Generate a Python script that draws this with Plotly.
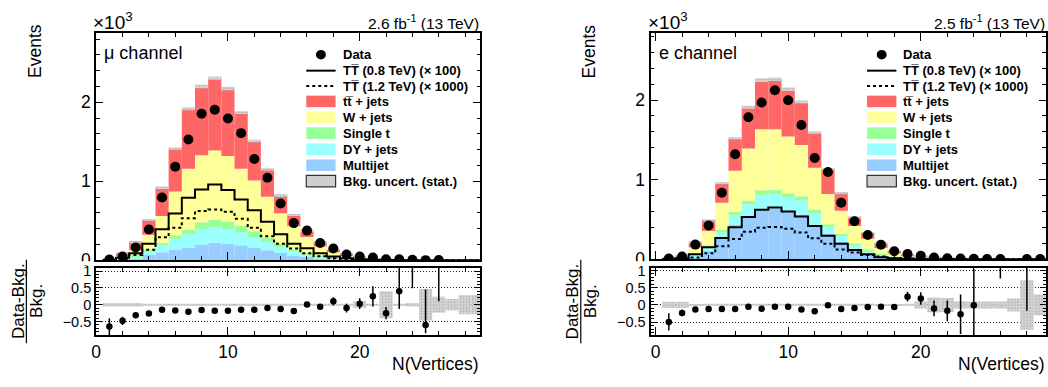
import plotly.graph_objects as go

W, H = 1048, 387
FONT = "Liberation Sans, Arial, Helvetica, sans-serif"


def px(x):
    return x / W


def py(y):
    return 1 - y / H


# ---------------- data ----------------
nvtx = list(range(1, 30))  # bin centres, N(Vertices)

# mu channel (events per bin)
mu_multijet = [3, 10, 28, 65, 100, 135, 160, 200, 220, 210, 190, 160, 125, 90, 60, 40, 25, 15, 9, 5, 3, 1.5, 1, 0.3, 0.3, 0.2, 0.1, 0.1, 0.05]
mu_dy = [2, 8, 22, 50, 85, 130, 170, 190, 195, 185, 165, 135, 105, 75, 50, 33, 20, 12, 7, 4, 2, 1, 0.6, 0.1, 0.1, 0, 0, 0, 0]
mu_singlet = [1, 3, 9, 20, 35, 50, 60, 90, 100, 95, 85, 72, 55, 40, 27, 18, 11, 7, 4, 2, 1, 0.5, 0.4, 0.1, 0.1, 0, 0, 0, 0]
mu_wjets = [9, 34, 69, 187, 341, 555, 770, 850, 876, 830, 720, 643, 520, 391, 294, 202, 118, 66, 38, 21, 13, 8, 4, 1.0, 1.5, 0.6, 0.8, 0.5, 0.35]
mu_ttbar = [10, 37, 104, 193, 361, 545, 760, 870, 914, 855, 710, 500, 345, 230, 144, 87, 58, 37, 22, 13, 8, 4, 3, 0.5, 0.5, 0.2, 0.3, 0.2, 0.1]
mu_unc = [0.05, 0.05, 0.05, 0.015, 0.012, 0.01, 0.01, 0.01, 0.01, 0.01, 0.01, 0.01, 0.012, 0.015, 0.015, 0.03, 0.03, 0.03, 0.03, 0.1, 0.03, 0.4, 0.03, 0.05, 0.47, 0.24, 0.17, 0.28, 0.28]
mu_data = [9, 48, 160, 390, 795, 1185, 1530, 1855, 1905, 1795, 1610, 1283, 1045, 718, 470, 375, 218, 148, 73, 46, 33, 12, 12, 6, 1, 3, None, None, None]
mu_sig08 = [0, 30, 87, 209, 391, 593, 790, 895, 958, 889, 770, 634, 488, 330, 209, 150, 87, 47, 26, 12, 5, 2, 1, 0, 0, 0, 0, 0, 0]
mu_sig12 = [0, 20, 67, 134, 290, 411, 533, 622, 642, 613, 525, 411, 302, 209, 148, 87, 50, 25, 12, 5, 2, 1, 0, 0, 0, 0, 0, 0, 0]
mu_ratio = [-0.65, -0.48, -0.31, -0.26, -0.15, -0.17, -0.21, -0.16, -0.18, -0.18, -0.15, -0.15, -0.10, -0.13, -0.19, 0.01, -0.06, 0.10, -0.10, 0.03, 0.25, -0.25, 0.40, 2.0, -0.6, 1.6, None, None, None]
mu_ratio_up = [0.25, 0.12, 0.04, 0.02, 0.02, 0.02, 0.02, 0.02, 0.02, 0.02, 0.02, 0.02, 0.02, 0.02, 0.03, 0.04, 0.05, 0.12, 0.13, 0.16, 0.3, 0.18, 0.8, 1.0, 1.05, 1.0, 0, 0, 0]
mu_ratio_dn = [0.25, 0.12, 0.04, 0.02, 0.02, 0.02, 0.02, 0.02, 0.02, 0.02, 0.02, 0.02, 0.02, 0.02, 0.03, 0.04, 0.05, 0.12, 0.13, 0.16, 0.3, 0.18, 0.53, 1.51, 0.25, 1.5, 0, 0, 0]

# e channel
e_multijet = [4, 8, 35, 101, 262, 435, 536, 624, 636, 608, 560, 430, 320, 220, 130, 75, 38, 20, 9, 6, 4, 2.5, 1.6, 1, 0.3, 0.2, 0.1, 0.05, 0.05]
e_dy = [2, 5, 25, 52, 73, 120, 150, 185, 180, 170, 180, 150, 85, 70, 50, 30, 17, 7, 4, 3, 2, 1, 0.5, 0.3, 0, 0, 0, 0, 0]
e_singlet = [2, 4, 12, 20, 30, 40, 52, 58, 55, 50, 52, 42, 32, 26, 20, 15, 10, 6, 3, 2, 1, 0.5, 0.5, 0.2, 0, 0, 0, 0, 0]
e_wjets = [5, 14, 73, 182, 345, 515, 652, 765, 761, 712, 643, 528, 382, 293, 216, 135, 75, 39, 22, 15, 10, 7, 5, 2.5, 0.8, 0.6, 0.5, 0.3, 0.3]
e_ttbar = [5, 14, 67, 137, 250, 410, 520, 618, 628, 595, 540, 440, 311, 226, 114, 75, 62, 33, 14, 9, 5, 3, 2, 1, 0.4, 0.2, 0.2, 0.1, 0.1]
e_unc = [0.09, 0.09, 0.03, 0.01, 0.01, 0.01, 0.01, 0.01, 0.01, 0.01, 0.01, 0.01, 0.01, 0.01, 0.01, 0.01, 0.03, 0.03, 0.02, 0.1, 0.22, 0.2, 0.1, 0.1, 0.1, 0.1, 0.19, 0.72, 0.3]
e_data = [8, 33, 183, 424, 835, 1318, 1783, 1968, 2122, 1996, 1686, 1271, 1095, 710, 476, 303, 182, 99, 65, 42, 20, 12, 7, 5, 3, 2, None, 1, 1]
e_sig08 = [0, 10, 60, 150, 265, 400, 530, 620, 650, 600, 536, 416, 295, 195, 114, 61, 25, 12, 5, 2, 0, 0, 0, 0, 0, 0, 0, 0, 0]
e_sig12 = [0, 5, 20, 73, 161, 254, 343, 396, 404, 383, 335, 262, 194, 122, 85, 53, 33, 15, 7, 3, 1, 0, 0, 0, 0, 0, 0, 0, 0]
e_ratio = [-0.49, -0.23, -0.13, -0.12, -0.12, -0.12, -0.05, -0.11, -0.05, -0.05, -0.13, -0.18, -0.01, -0.12, -0.09, -0.06, -0.05, -0.06, 0.24, 0.19, -0.10, -0.17, -0.27, -0.01, 2.5, 2.0, None, 1.5, 2.5]
e_ratio_up = [0.25, 0.1, 0.03, 0.02, 0.02, 0.02, 0.02, 0.02, 0.02, 0.02, 0.02, 0.02, 0.02, 0.02, 0.03, 0.04, 0.05, 0.07, 0.14, 0.18, 0.23, 0.3, 0.57, 1.05, 1.0, 1.5, 0, 1.5, 1.0]
e_ratio_dn = [0.25, 0.1, 0.03, 0.02, 0.02, 0.02, 0.02, 0.02, 0.02, 0.02, 0.02, 0.02, 0.02, 0.02, 0.03, 0.04, 0.05, 0.07, 0.14, 0.18, 0.23, 0.3, 0.57, 0.9, 1.0, 1.23, 0, 1.67, 1.0]

COL = {
    "multijet": "#99ccff",
    "dy": "#99ffff",
    "singlet": "#99ff99",
    "wjets": "#ffff99",
    "ttbar": "#ff6666",
}
UNC_MARKER = dict(color="#c8c8c8", line=dict(width=0),
                  pattern=dict(shape=".", fgcolor="#808080", bgcolor="#e2e2e2", size=3, solidity=0.45))

fig = go.Figure()


def add_channel(xt, yt, xr, yr, comps, unc, data, sig08, sig12, ratio, rup, rdn):
    base = [0.0] * len(nvtx)
    for vals, col in comps:
        fig.add_trace(go.Bar(
            x=nvtx, y=[v / 1000 for v in vals], base=[b / 1000 for b in base], width=1,
            marker=dict(color=col, line=dict(width=0)), xaxis=xt, yaxis=yt,
            showlegend=False, hoverinfo="skip"))
        base = [b + v for b, v in zip(base, vals)]
    total = base
    fig.add_trace(go.Bar(
        x=nvtx, y=[2 * t * u / 1000 for t, u in zip(total, unc)],
        base=[t * (1 - u) / 1000 for t, u in zip(total, unc)], width=1,
        marker=UNC_MARKER, xaxis=xt, yaxis=yt, showlegend=False, hoverinfo="skip"))
    edges = [c - 0.5 for c in nvtx] + [nvtx[-1] + 0.5]
    for sig, dash in ((sig08, "solid"), (sig12, "3px,3px")):
        fig.add_trace(go.Scatter(
            x=edges, y=[s / 1000 for s in sig] + [sig[-1] / 1000], mode="lines",
            line=dict(color="black", width=2, dash=dash, shape="hv"),
            xaxis=xt, yaxis=yt, showlegend=False, hoverinfo="skip"))
    fig.add_trace(go.Scatter(
        x=nvtx, y=[d / 1000 if d is not None else None for d in data], mode="markers",
        marker=dict(color="black", size=10), xaxis=xt, yaxis=yt, showlegend=False))
    fig.add_trace(go.Bar(
        x=nvtx, y=[2 * u for u in unc], base=[-u for u in unc], width=1,
        marker=UNC_MARKER, xaxis=xr, yaxis=yr, showlegend=False, hoverinfo="skip"))
    fig.add_trace(go.Scatter(
        x=nvtx, y=ratio, mode="markers", marker=dict(color="black", size=6.5),
        error_y=dict(type="data", symmetric=False, array=rup, arrayminus=rdn,
                     color="black", thickness=1.5, width=0),
        xaxis=xr, yaxis=yr, showlegend=False))


add_channel("x", "y", "x2", "y2",
            [(mu_multijet, COL["multijet"]), (mu_dy, COL["dy"]), (mu_singlet, COL["singlet"]),
             (mu_wjets, COL["wjets"]), (mu_ttbar, COL["ttbar"])],
            mu_unc, mu_data, mu_sig08, mu_sig12, mu_ratio, mu_ratio_up, mu_ratio_dn)
add_channel("x3", "y3", "x4", "y4",
            [(e_multijet, COL["multijet"]), (e_dy, COL["dy"]), (e_singlet, COL["singlet"]),
             (e_wjets, COL["wjets"]), (e_ttbar, COL["ttbar"])],
            e_unc, e_data, e_sig08, e_sig12, e_ratio, e_ratio_up, e_ratio_dn)


def xax(x0, x1, rng, labels, anchor):
    return dict(domain=[px(x0), px(x1)], range=rng, anchor=anchor,
                showline=True, linewidth=2, linecolor="black", mirror="allticks",
                ticks="inside", ticklen=8, tickwidth=1, tickcolor="black", tick0=0, dtick=10,
                minor=dict(ticks="inside", ticklen=4, tickwidth=1, tickcolor="black", tick0=0, dtick=2),
                showgrid=False, zeroline=False, showticklabels=labels,
                tickfont=dict(family=FONT, size=17.5, color="black"))


def ytop(y0, y1, rng, anchor):
    return dict(domain=[py(y1), py(y0)], range=rng, anchor=anchor,
                showline=True, linewidth=2, linecolor="black", mirror="allticks",
                ticks="inside", ticklen=7, tickwidth=1, tickcolor="black", tick0=0, dtick=1,
                minor=dict(ticks="inside", ticklen=3.5, tickwidth=1, tickcolor="black", tick0=0, dtick=0.2),
                showgrid=False, zeroline=False,
                tickfont=dict(family=FONT, size=17.5, color="black"))


def yrat(y0, y1, rng, anchor):
    return dict(domain=[py(y1), py(y0)], range=rng, anchor=anchor,
                showline=True, linewidth=2, linecolor="black", mirror="allticks",
                ticks="inside", ticklen=6, tickwidth=1, tickcolor="black", tick0=0, dtick=0.5,
                minor=dict(ticks="inside", ticklen=3, tickwidth=1, tickcolor="black", tick0=0, dtick=0.1),
                showgrid=True, gridcolor="#222222", gridwidth=1, griddash="1px,2px", zeroline=False,
                tickfont=dict(family=FONT, size=14.5, color="black"))


layout = dict(
    width=W, height=H, autosize=False, margin=dict(l=0, r=0, t=0, b=0),
    paper_bgcolor="white", plot_bgcolor="white", barmode="overlay", showlegend=False,
    xaxis=xax(91.7, 478, [0, 29.15], False, "y"),
    yaxis=ytop(29, 265.5, [0, 2.88], "x"),
    xaxis2=xax(91.7, 478, [0, 29.15], True, "y2"),
    yaxis2=yrat(273.3, 343.3, [-0.9, 1.1], "x2"),
    xaxis3=xax(649.3, 1046.7, [-0.375, 29.42], False, "y3"),
    yaxis3=ytop(29.3, 264.4, [0, 2.84], "x3"),
    xaxis4=xax(649.3, 1046.7, [-0.375, 29.42], True, "y4"),
    yaxis4=yrat(273.3, 343.3, [-0.87, 1.08], "x4"),
)
fig.update_layout(**layout)

annotations = []
shapes = []


def text(x, y, s, size, xanchor="left", angle=0, bold=False):
    annotations.append(dict(
        x=px(x), y=py(y), xref="paper", yref="paper", text=("<b>%s</b>" % s) if bold else s,
        showarrow=False, xanchor=xanchor, yanchor="middle", textangle=angle,
        font=dict(family=FONT, size=size, color="black")))


legend_entries = ["Data", "TT\u0305 (0.8 TeV) (\u00d7 100)", "TT\u0305 (1.2 TeV) (\u00d7 1000)",
                  "tt\u0305 + jets", "W + jets", "Single t", "DY + jets", "Multijet", "Bkg. uncert. (stat.)"]
legend_y = [51.7, 68.3, 84.3, 100.3, 116.8, 133.3, 150, 166.7, 183.3]
swatch_cols = [None, None, None, COL["ttbar"], COL["wjets"], COL["singlet"], COL["dy"], COL["multijet"], "#cfcfcf"]

panels = [
    dict(dx=0, lumi="2.6 fb<sup>-1</sup> (13 TeV)", chan="\u03bc channel"),
    dict(dx=557.6, lumi="2.5 fb<sup>-1</sup> (13 TeV)", chan="e channel"),
]
for p in panels:
    dx = p["dx"]
    x_left = 91.7 + dx
    x_right = 478 + dx if dx == 0 else 1046.7
    # the lower pad hides the bottom half of the upper pad's "0" label (as in the original)
    shapes.append(dict(type="rect", xref="paper", yref="paper", layer="above",
                       x0=px(55 + dx), x1=px(x_left - 2), y0=py(271), y1=py(266.5),
                       fillcolor="white", line=dict(width=0)))
    text(x_left - 5, 17, "\u00d710<sup>3</sup>", 19)
    text(x_right + 1, 18, p["lumi"], 15.5, xanchor="right")
    text(x_left + 6, 50, p["chan"], 18)
    text(x_right + 1, 373, "N(Vertices)", 17.5, xanchor="right")
    text(30 + dx, 48, "Events", 17.5, xanchor="center", angle=-90)
    text(13 + dx, 308, "Data-Bkg.", 17, xanchor="center", angle=-90)
    text(31 + dx, 308, "Bkg.", 17, xanchor="center", angle=-90)
    shapes.append(dict(type="line", xref="paper", yref="paper", x0=px(21.5 + dx), x1=px(21.5 + dx),
                       y0=py(265), y1=py(352), line=dict(color="black", width=1.2)))
    # legend
    lx0 = 303 + (564 if dx else 0)
    lx1 = lx0 + 29.5
    for name, yy, col in zip(legend_entries, legend_y, swatch_cols):
        if name == "Data":
            shapes.append(dict(type="circle", xref="paper", yref="paper", x0=px((lx0 + lx1) / 2 - 5),
                               x1=px((lx0 + lx1) / 2 + 5), y0=py(yy + 5), y1=py(yy - 5),
                               fillcolor="black", line=dict(width=0)))
        elif name.startswith("TT"):
            dash = "solid" if "0.8" in name else "3px,3px"
            shapes.append(dict(type="line", xref="paper", yref="paper", x0=px(lx0), x1=px(lx1),
                               y0=py(yy), y1=py(yy), line=dict(color="black", width=2, dash=dash)))
        else:
            border = dict(color="#333333", width=1.2) if name.startswith("Bkg") else dict(width=0)
            shapes.append(dict(type="rect", xref="paper", yref="paper", x0=px(lx0), x1=px(lx1),
                               y0=py(yy + 6), y1=py(yy - 6), fillcolor=col, line=border))
        text(lx1 + 5, yy, name, 13, bold=True)

fig.update_layout(annotations=annotations, shapes=shapes)
fig.write_html("out.html")
